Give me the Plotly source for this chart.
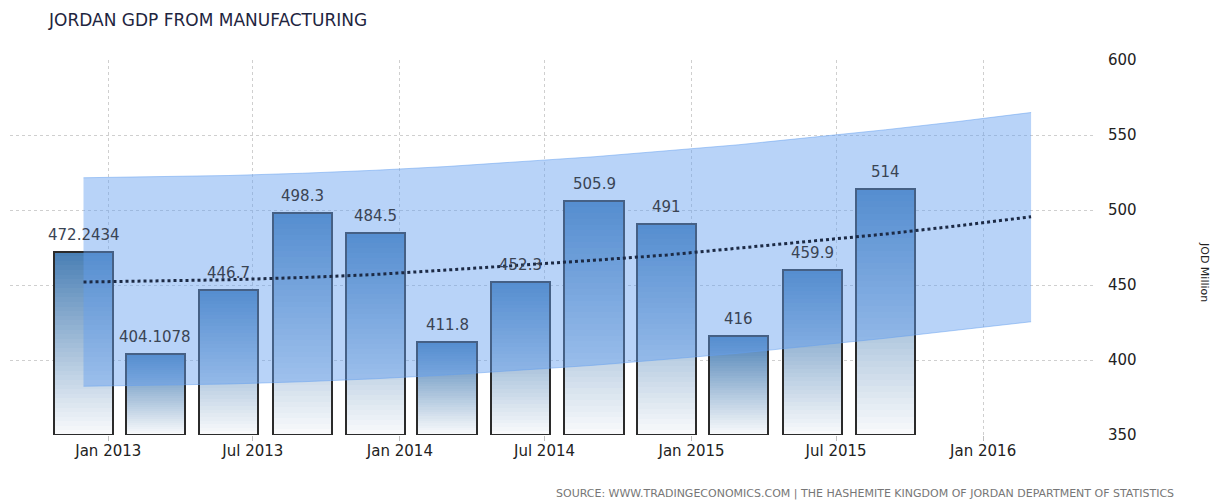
import plotly.graph_objects as go

# ---- data ----
dates = ["2012-12-01", "2013-03-01", "2013-06-01", "2013-09-01", "2013-12-01", "2014-03-01",
         "2014-06-01", "2014-09-01", "2014-12-01", "2015-03-01", "2015-06-01", "2015-09-01"]
values = [472.2434, 404.1078, 446.7, 498.3, 484.5, 411.8, 452.3, 505.9, 491, 416, 459.9, 514]
labels = ["472.2434", "404.1078", "446.7", "498.3", "484.5", "411.8", "452.3", "505.9",
          "491", "416", "459.9", "514"]

fc_dates = ["2012-12-01", "2013-03-01", "2013-06-01", "2013-09-01", "2013-12-01", "2014-03-01",
            "2014-06-01", "2014-09-01", "2014-12-01", "2015-03-01", "2015-06-01", "2015-09-01",
            "2015-12-01", "2016-03-01"]
fc_upper = [521.5, 522, 523, 524.5, 526.5, 529, 532, 535.5, 539.5, 543.5, 548.5, 553.5, 559, 565]
fc_lower = [382.5, 383, 384, 385.5, 387.5, 390, 393, 396.5, 400.5, 404.5, 409.5, 414.5, 420, 425.5]
fc_trend = [452, 452.5, 453.5, 455, 457, 460, 463, 466.5, 470, 474.5, 479, 484, 489.5, 495.5]

x_tickvals = ["2013-01-01", "2013-07-01", "2014-01-01", "2014-07-01", "2015-01-01", "2015-07-01", "2016-01-01"]
x_ticktext = ["Jan 2013", "Jul 2013", "Jan 2014", "Jul 2014", "Jan 2015", "Jul 2015", "Jan 2016"]
y_ticks = [350, 400, 450, 500, 550, 600]

# ---- styling ----
FONT = "DejaVu Sans"
BASE = 350
N = 40
BAR_W = 74 * 86400000
top_c = (72, 126, 180)
bot_c = (250, 251, 252)

fig = go.Figure()

# gradient bars built from stacked slices
for k in range(N):
    f = (k + 0.5) / N
    c = tuple(round(bot_c[i] + (top_c[i] - bot_c[i]) * f) for i in range(3))
    fig.add_trace(go.Bar(
        x=dates,
        base=[BASE + (v - BASE) * k / N for v in values],
        y=[(v - BASE) / N * 1.03 if k < N - 1 else (v - BASE) / N for v in values],
        width=BAR_W,
        marker=dict(color="rgb(%d,%d,%d)" % c, line=dict(width=0)),
        hoverinfo="skip", showlegend=False,
    ))

# outline
fig.add_trace(go.Bar(
    x=dates, base=[BASE] * len(values), y=[v - BASE for v in values], width=BAR_W,
    marker=dict(color="rgba(0,0,0,0)", line=dict(color="#2b2b2b", width=2)),
    showlegend=False, hoverinfo="skip",
))

# forecast band
fig.add_trace(go.Scatter(x=fc_dates, y=fc_lower, mode="lines",
                         line=dict(width=1, color="rgba(100,160,240,0.5)"),
                         showlegend=False, hoverinfo="skip"))
fig.add_trace(go.Scatter(x=fc_dates, y=fc_upper, mode="lines", fill="tonexty",
                         fillcolor="rgba(100,160,240,0.46)",
                         line=dict(width=1, color="rgba(100,160,240,0.5)"),
                         showlegend=False, hoverinfo="skip"))
# trend
fig.add_trace(go.Scatter(x=fc_dates, y=fc_trend, mode="lines",
                         line=dict(width=3, color="#1c2a45", dash="dot"),
                         showlegend=False, hoverinfo="skip"))

L, R, T, B = 10, 118, 60, 67
W, H = 1213, 502
pw, ph = W - L - R, H - T - B

def px(x):
    return (x - L) / pw

def py(y):
    return (H - B - y) / ph

annos = [
    dict(text=t, x=d, y=v, xref="x", yref="y", yshift=17, showarrow=False,
         xanchor="center", yanchor="middle",
         font=dict(family=FONT, size=15, color="#3a4454"))
    for d, v, t in zip(dates, values, labels)
]
annos += [
    dict(text="JORDAN GDP FROM MANUFACTURING", x=px(46), y=py(20), xref="paper", yref="paper",
         xanchor="left", yanchor="middle", showarrow=False,
         font=dict(family=FONT, size=17, color="#1e2540")),
    dict(text="JOD Million", x=px(1205), y=py(272), xref="paper", yref="paper",
         xanchor="center", yanchor="middle", showarrow=False, textangle=90,
         font=dict(family=FONT, size=11, color="#222222")),
    dict(text="SOURCE: WWW.TRADINGECONOMICS.COM | THE HASHEMITE KINGDOM OF JORDAN DEPARTMENT OF STATISTICS",
         x=px(1176), y=py(493), xref="paper", yref="paper",
         xanchor="right", yanchor="middle", showarrow=False,
         font=dict(family=FONT, size=11, color="#777777")),
]

fig.update_layout(
    width=W, height=H,
    margin=dict(l=L, r=R, t=T, b=B),
    paper_bgcolor="white", plot_bgcolor="white",
    barmode="overlay", bargap=0,
    font=dict(family=FONT, color="#333333"),
    xaxis=dict(type="date", range=["2012-08-31", "2016-05-20"],
               tickvals=x_tickvals, ticktext=x_ticktext,
               tickfont=dict(family=FONT, size=15, color="#222222"),
               showgrid=True, gridcolor="#cfcfcf", griddash="dot", gridwidth=1,
               ticks="outside", ticklen=5, tickcolor="#c0c0c0", ticklabelstandoff=-3,
               showline=False, zeroline=False),
    yaxis=dict(range=[BASE, 600], side="right", tickvals=y_ticks,
               tickfont=dict(family=FONT, size=15, color="#222222"),
               showgrid=True, gridcolor="#cfcfcf", griddash="dot", gridwidth=1,
               ticks="", ticklabelstandoff=12,
               showline=False, zeroline=False),
    annotations=annos,
)

fig.write_html("out.html", config={"displayModeBar": False},
               post_script="document.body.style.margin='0';")
